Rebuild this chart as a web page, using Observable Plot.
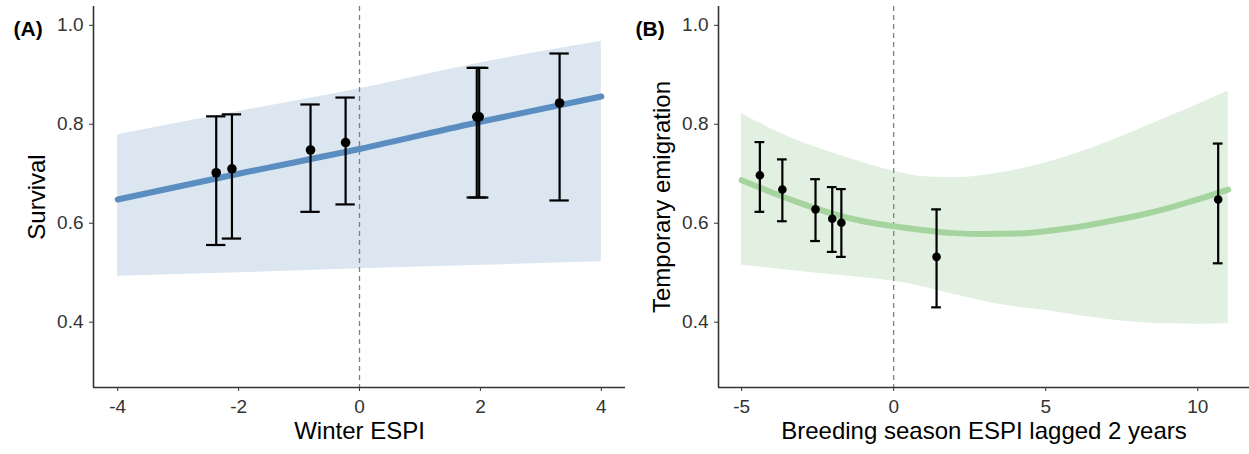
<!DOCTYPE html>
<html><head><meta charset="utf-8">
<script src="https://cdn.jsdelivr.net/npm/d3@7"></script>
<script src="https://cdn.jsdelivr.net/npm/@observablehq/plot@0.6"></script>
<style>
body{margin:0;background:#fff;font-family:"Liberation Sans",Arial,sans-serif;}
#wrap{display:flex;width:1249px;height:454px;overflow:hidden;}
#wrap > div{flex:none;}
</style></head><body><div id="wrap"><div id="a"></div><div id="b"></div></div>
<script>
// Panel A: Winter ESPI vs Survival
const winterEspi = [-2.37, -2.11, -0.81, -0.23, 1.94, 1.98, 3.31];
const survival   = [0.702, 0.710, 0.748, 0.763, 0.815, 0.815, 0.843];
const survivalLo = [0.556, 0.569, 0.623, 0.638, 0.652, 0.652, 0.646];
const survivalHi = [0.816, 0.820, 0.840, 0.854, 0.914, 0.914, 0.943];
const fitWinterX  = [-4, -2, 0, 2, 4];
const fitSurvival = [0.648, 0.700, 0.750, 0.805, 0.856];
const fitSurvLo   = [0.493, 0.500, 0.508, 0.515, 0.522];
const fitSurvHi   = [0.779, 0.826, 0.872, 0.924, 0.968];

// Panel B: Breeding season ESPI lagged 2 years vs Temporary emigration
const breedEspi  = [-4.40, -3.66, -2.57, -2.02, -1.72, 1.41, 10.67];
const emigration = [0.697, 0.668, 0.628, 0.609, 0.601, 0.532, 0.648];
const emigLo     = [0.623, 0.604, 0.564, 0.542, 0.532, 0.430, 0.519];
const emigHi     = [0.764, 0.729, 0.689, 0.673, 0.669, 0.628, 0.761];
const fitBreedX  = [-5, -4, -3, -2, -1, 0, 1, 2, 3, 4, 5, 6, 7, 8, 9, 10, 11];
const fitEmig    = [0.687, 0.662, 0.639, 0.619, 0.604, 0.594, 0.586, 0.580, 0.578, 0.579, 0.584, 0.592, 0.603, 0.615, 0.630, 0.648, 0.668];
const fitEmigLo  = [0.515, 0.509, 0.502, 0.496, 0.490, 0.483, 0.471, 0.456, 0.442, 0.431, 0.424, 0.414, 0.406, 0.400, 0.397, 0.396, 0.397];
const fitEmigHi  = [0.822, 0.790, 0.763, 0.742, 0.722, 0.705, 0.694, 0.692, 0.697, 0.707, 0.722, 0.741, 0.763, 0.788, 0.814, 0.840, 0.867];

const yTicks = [0.4, 0.6, 0.8, 1.0];
const xTicksA = [-4, -2, 0, 2, 4];
const xTicksB = [-5, 0, 5, 10];

const yDomain = [0.268, 1.038];

function panel({xs, ys, los, his, fx, fy, flo, fhi, xDomain, xTicks, width, ribbon, line, cap, pointR, xLabel, yLabel, tag, tagDx}) {
  const pts = xs.map((x, i) => ({x, y: ys[i], lo: los[i], hi: his[i]}));
  const fit = fx.map((x, i) => ({x, y: fy[i], lo: flo[i], hi: fhi[i]}));
  return Plot.plot({
    width, height: 454,
    marginLeft: 93, marginRight: 0, marginTop: 6, marginBottom: 67,
    style: {fontSize: "19px", fontFamily: "'Liberation Sans', Arial, sans-serif", background: "white"},
    x: {domain: xDomain},
    y: {domain: yDomain},
    marks: [
      Plot.areaY(fit, {x: "x", y1: "lo", y2: "hi", fill: ribbon, curve: "monotone-x"}),
      Plot.ruleX([0], {stroke: "#808080", strokeWidth: 1.3, strokeDasharray: "5,4"}),
      Plot.line(fit, {x: "x", y: "y", stroke: line, strokeWidth: 6, curve: "monotone-x"}),
      Plot.ruleX(pts, {x: "x", y1: "lo", y2: "hi", stroke: "black", strokeWidth: 2.2}),
      Plot.ruleY(pts, {y: "hi", x1: d => d.x - cap, x2: d => d.x + cap, stroke: "black", strokeWidth: 2.2}),
      Plot.ruleY(pts, {y: "lo", x1: d => d.x - cap, x2: d => d.x + cap, stroke: "black", strokeWidth: 2.2}),
      Plot.dot(pts, {x: "x", y: "y", r: pointR, fill: "black"}),
      Plot.ruleX([xDomain[0]], {stroke: "#333", strokeWidth: 1.6}),
      Plot.ruleY([yDomain[0]], {stroke: "#333", strokeWidth: 1.6}),
      Plot.axisX({ticks: xTicks, tickSize: 4, tickPadding: 8, color: "#333", fontSize: 19, label: null, tickFormat: d => String(d)}),
      Plot.axisY({ticks: yTicks, tickSize: 4, tickPadding: 6, color: "#333", fontSize: 19, label: null, tickFormat: d3.format(".1f")}),
      Plot.text([xLabel], {frameAnchor: "bottom", dy: 51, fontSize: 24, fill: "black", textAnchor: "middle"}),
      Plot.text([yLabel], {frameAnchor: "left", rotate: -90, dx: -56, fontSize: 24, fill: "black", textAnchor: "middle"}),
      Plot.text([tag], {frameAnchor: "top-left", dx: tagDx, dy: 15, fontSize: 21, fontWeight: "bold", textAnchor: "start", fill: "black"})
    ]
  });
}

document.getElementById("a").append(panel({
  xs: winterEspi, ys: survival, los: survivalLo, his: survivalHi,
  fx: fitWinterX, fy: fitSurvival, flo: fitSurvLo, fhi: fitSurvHi,
  xDomain: [-4.4, 4.4], xTicks: xTicksA, width: 625,
  ribbon: "#dbe6f0", line: "#5a8dc0", cap: 0.16, pointR: 4.8,
  xLabel: "Winter ESPI", yLabel: "Survival", tag: "(A)", tagDx: -80
}));
document.getElementById("b").append(panel({
  xs: breedEspi, ys: emigration, los: emigLo, his: emigHi,
  fx: fitBreedX, fy: fitEmig, flo: fitEmigLo, fhi: fitEmigHi,
  xDomain: [-5.76, 11.7], xTicks: xTicksB, width: 624,
  ribbon: "#e1f0e0", line: "#a6d49f", cap: 0.16, pointR: 4.3,
  xLabel: "Breeding season ESPI lagged 2 years", yLabel: "Temporary emigration", tag: "(B)", tagDx: -83
}));
</script></body></html>
